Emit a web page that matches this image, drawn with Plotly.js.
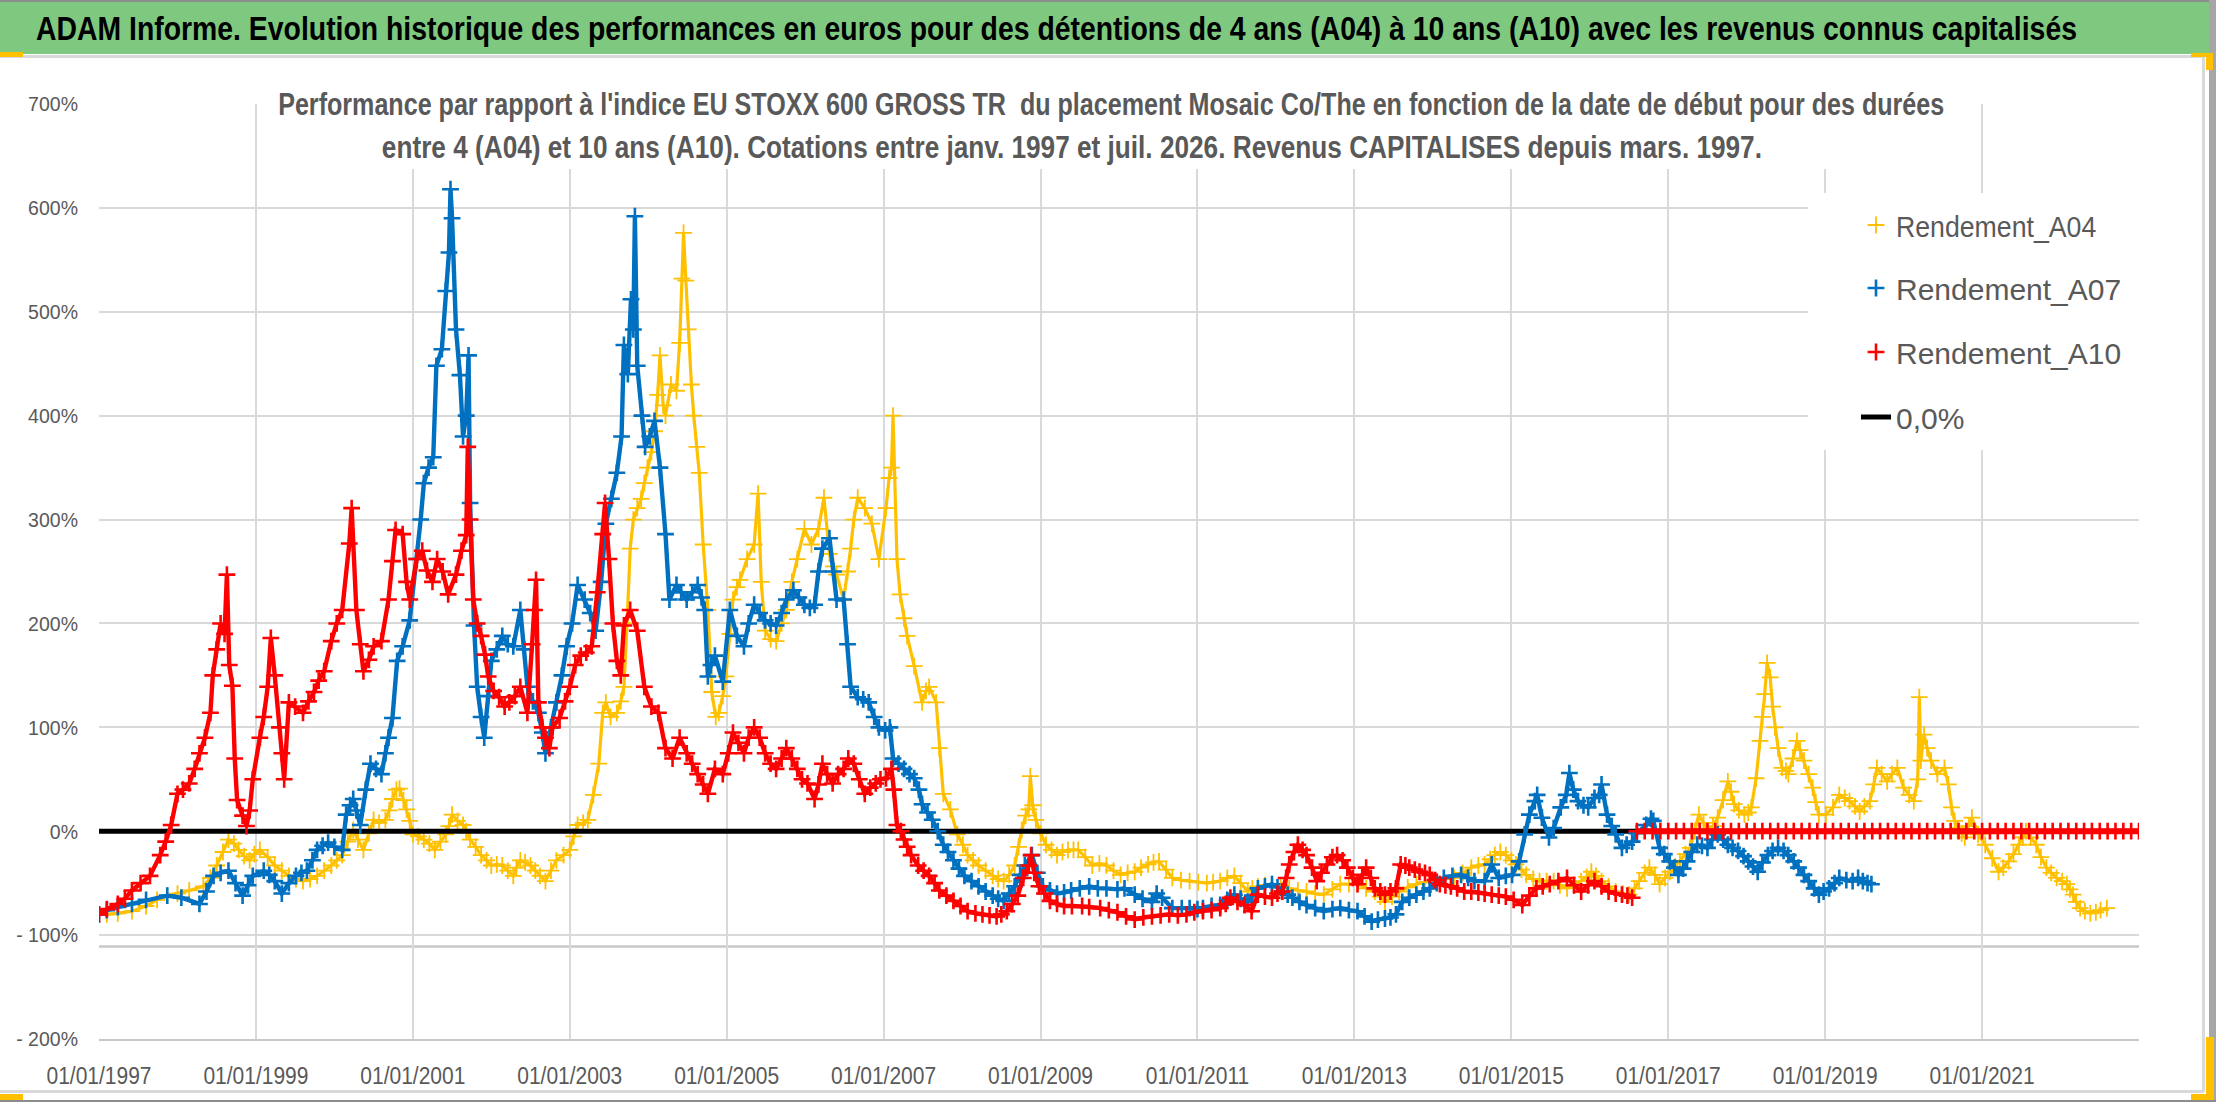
<!DOCTYPE html>
<html><head><meta charset="utf-8">
<script src="https://cdn.plot.ly/plotly-3.0.1.min.js"></script>
<style>html,body{margin:0;padding:0;background:#fff}#chart{width:2216px;height:1102px}</style>
</head><body><div id="chart"></div>
<script>
// ---------- DATA ----------
const titleText = "ADAM Informe. Evolution historique des performances en euros pour des détentions de 4 ans (A04) à 10 ans (A10) avec les revenus connus capitalisés";
const subtitleLine1 = "Performance par rapport à l'indice EU STOXX 600 GROSS TR  du placement Mosaic Co/The en fonction de la date de début pour des durées";
const subtitleLine2 = "entre 4 (A04) et 10 ans (A10). Cotations entre janv. 1997 et juil. 2026. Revenus CAPITALISES depuis mars. 1997.";
const seriesNames = ["Rendement_A04", "Rendement_A07", "Rendement_A10", "0,0%"];

const xTickVals = [1997, 1999, 2001, 2003, 2005, 2007, 2009, 2011, 2013, 2015, 2017, 2019, 2021];
const xTickLabels = ["01/01/1997","01/01/1999","01/01/2001","01/01/2003","01/01/2005","01/01/2007","01/01/2009","01/01/2011","01/01/2013","01/01/2015","01/01/2017","01/01/2019","01/01/2021"];
const yTickVals = [-200, -100, 0, 100, 200, 300, 400, 500, 600, 700];
const yTickLabels = ["- 200%","- 100%","0%","100%","200%","300%","400%","500%","600%","700%"];

// Rendement_A04 (yellow) : start date (decimal year) / performance %
const a04Dates = [
1997.00,1997.10,1997.24,1997.42,1997.60,1997.74,1997.87,1998.00,1998.15,1998.33,
1998.42,1998.50,1998.58,1998.65,1998.72,1998.78,1998.85,1998.92,1998.98,1999.05,
1999.15,1999.24,1999.33,1999.42,1999.51,1999.60,1999.69,1999.78,1999.87,1999.96,
2000.03,2000.10,2000.17,2000.24,2000.30,2000.37,2000.44,2000.50,2000.57,2000.65,
2000.70,2000.74,2000.79,2000.83,2000.88,2000.92,2000.96,2001.00,2001.07,2001.14,
2001.21,2001.28,2001.35,2001.42,2001.46,2001.50,2001.57,2001.64,2001.68,2001.73,
2001.80,2001.87,2001.94,2002.00,2002.07,2002.14,2002.21,2002.28,2002.32,2002.37,
2002.43,2002.50,2002.56,2002.62,2002.69,2002.76,2002.83,2002.92,2003.00,2003.05,
2003.10,2003.17,2003.23,2003.30,2003.37,2003.42,2003.46,2003.52,2003.60,2003.65,
2003.69,2003.73,2003.77,2003.81,2003.86,2003.91,2003.95,2003.99,2004.04,2004.08,
2004.12,2004.15,2004.19,2004.22,2004.29,2004.36,2004.40,2004.43,2004.45,2004.48,
2004.51,2004.55,2004.58,2004.62,2004.65,2004.70,2004.76,2004.81,2004.86,2004.90,
2004.95,2004.99,2005.04,2005.08,2005.13,2005.17,2005.26,2005.35,2005.40,2005.44,
2005.49,2005.56,2005.63,2005.70,2005.76,2005.83,2005.90,2005.99,2006.08,2006.17,
2006.24,2006.31,2006.36,2006.40,2006.49,2006.54,2006.58,2006.62,2006.67,2006.76,
2006.85,2006.94,2007.03,2007.07,2007.10,2007.12,2007.17,2007.21,2007.26,2007.30,
2007.39,2007.49,2007.54,2007.58,2007.67,2007.71,2007.76,2007.85,2007.94,2008.01,
2008.07,2008.14,2008.21,2008.30,2008.39,2008.46,2008.53,2008.60,2008.67,2008.72,
2008.76,2008.81,2008.85,2008.87,2008.90,2008.94,2009.00,2009.07,2009.14,2009.21,
2009.28,2009.35,2009.42,2009.48,2009.57,2009.66,2009.75,2009.84,2009.93,2010.02,
2010.11,2010.20,2010.28,2010.37,2010.44,2010.51,2010.60,2010.68,2010.79,2010.90,
2011.01,2011.12,2011.20,2011.29,2011.38,2011.47,2011.55,2011.64,2011.70,2011.77,
2011.86,2011.95,2012.06,2012.17,2012.28,2012.39,2012.50,2012.61,2012.72,2012.82,
2012.93,2013.04,2013.15,2013.26,2013.33,2013.39,2013.48,2013.57,2013.68,2013.79,
2013.90,2014.01,2014.14,2014.27,2014.38,2014.49,2014.58,2014.66,2014.73,2014.79,
2014.86,2014.93,2015.00,2015.06,2015.13,2015.19,2015.28,2015.36,2015.45,2015.54,
2015.62,2015.71,2015.80,2015.89,2015.96,2016.02,2016.08,2016.15,2016.24,2016.33,
2016.42,2016.50,2016.57,2016.63,2016.70,2016.76,2016.83,2016.89,2016.96,2017.02,
2017.09,2017.15,2017.22,2017.28,2017.34,2017.39,2017.45,2017.50,2017.57,2017.63,
2017.70,2017.76,2017.80,2017.84,2017.90,2017.97,2018.02,2018.06,2018.12,2018.17,
2018.20,2018.23,2018.26,2018.30,2018.33,2018.36,2018.40,2018.45,2018.50,2018.53,
2018.59,2018.64,2018.68,2018.73,2018.79,2018.84,2018.88,2018.92,2019.01,2019.10,
2019.18,2019.25,2019.31,2019.38,2019.44,2019.50,2019.57,2019.62,2019.66,2019.72,
2019.79,2019.85,2019.92,2020.00,2020.07,2020.13,2020.18,2020.20,2020.22,2020.26,
2020.30,2020.35,2020.43,2020.52,2020.57,2020.61,2020.65,2020.69,2020.74,2020.78,
2020.83,2020.87,2020.95,2021.04,2021.13,2021.21,2021.27,2021.34,2021.40,2021.47,
2021.52,2021.56,2021.62,2021.69,2021.75,2021.82,2021.88,2021.95,2022.02,2022.08,
2022.12,2022.16,2022.20,2022.25,2022.31,2022.38,2022.45,2022.51,2022.59];
const a04Values = [
-80,-80,-79,-77,-72,-66,-62,-60,-57,-53,
-45,-33,-20,-8,-12,-18,-24,-28,-22,-18,
-25,-33,-38,-43,-46,-48,-46,-43,-38,-33,
-28,-23,-10,1,-8,-18,-2,11,8,11,
20,31,40,41,30,21,10,-3,-5,-8,
-12,-18,-10,-3,5,16,10,6,0,-8,
-15,-23,-28,-33,-32,-33,-38,-43,-35,-28,
-30,-33,-38,-43,-48,-38,-28,-23,-18,-5,
6,8,11,35,65,114,124,110,114,125,
139,200,272,300,311,320,335,350,365,385,
420,458,410,400,430,424,470,532,576,530,
483,430,400,370,345,276,213,134,110,114,
130,149,190,223,235,242,262,276,325,240,
193,185,183,200,213,240,262,291,276,291,
321,267,255,247,223,250,272,300,321,311,
296,262,311,340,350,400,262,228,205,188,
159,124,135,139,124,80,36,21,-3,-13,
-23,-28,-33,-38,-43,-46,-48,-42,-33,-15,
1,15,21,53,25,11,-2,-13,-18,-23,
-20,-18,-18,-18,-25,-33,-31,-33,-38,-42,
-40,-39,-35,-32,-30,-29,-37,-45,-47,-48,
-49,-50,-49,-48,-45,-43,-50,-58,-55,-53,
-52,-51,-53,-55,-57,-58,-60,-61,-56,-51,
-51,-51,-55,-58,-63,-68,-63,-58,-54,-51,
-49,-48,-46,-45,-40,-35,-33,-32,-27,-23,
-20,-23,-28,-32,-37,-42,-46,-48,-48,-48,
-52,-55,-52,-48,-44,-39,-43,-48,-53,-58,
-60,-61,-55,-48,-40,-35,-42,-51,-45,-39,
-34,-29,-22,-16,0,16,8,0,5,13,
30,48,38,26,20,16,18,23,51,87,
110,132,162,148,120,100,80,61,58,55,
70,87,78,68,55,42,28,16,16,23,
35,32,29,24,19,24,29,45,61,55,
48,55,61,42,35,29,50,129,68,93,
80,68,55,61,45,23,10,3,-2,-6,
5,13,-3,-13,-26,-39,-35,-29,-22,-13,
-6,0,-6,-13,-25,-35,-40,-45,-48,-51,
-56,-61,-68,-74,-77,-79,-78,-76,-74];

// Rendement_A07 (blue)
const a07Dates = [
1997.00,1997.10,1997.24,1997.42,1997.60,1997.87,1998.05,1998.28,1998.37,1998.46,
1998.55,1998.65,1998.74,1998.83,1998.90,1998.96,1999.10,1999.17,1999.24,1999.33,
1999.42,1999.51,1999.58,1999.65,1999.72,1999.78,1999.85,1999.92,2000.00,2000.10,
2000.15,2000.20,2000.24,2000.28,2000.33,2000.40,2000.46,2000.53,2000.60,2000.65,
2000.69,2000.74,2000.80,2000.87,2000.96,2001.05,2001.10,2001.14,2001.20,2001.26,
2001.30,2001.37,2001.42,2001.46,2001.48,2001.50,2001.55,2001.60,2001.64,2001.68,
2001.71,2001.73,2001.78,2001.82,2001.87,2001.91,2001.96,2002.00,2002.07,2002.14,
2002.21,2002.28,2002.37,2002.42,2002.46,2002.53,2002.60,2002.65,2002.69,2002.76,
2002.83,2002.90,2002.96,2003.03,2003.10,2003.19,2003.26,2003.33,2003.40,2003.46,
2003.53,2003.60,2003.66,2003.69,2003.74,2003.78,2003.81,2003.83,2003.86,2003.92,
2003.96,2004.02,2004.08,2004.15,2004.22,2004.27,2004.36,2004.42,2004.49,2004.56,
2004.63,2004.68,2004.72,2004.76,2004.80,2004.85,2004.95,2005.04,2005.13,2005.22,
2005.28,2005.35,2005.42,2005.49,2005.56,2005.63,2005.70,2005.76,2005.85,2005.92,
2005.99,2006.06,2006.12,2006.17,2006.22,2006.31,2006.36,2006.40,2006.49,2006.54,
2006.58,2006.67,2006.74,2006.81,2006.88,2006.94,2007.02,2007.08,2007.12,2007.19,
2007.26,2007.33,2007.39,2007.45,2007.49,2007.56,2007.62,2007.69,2007.76,2007.82,
2007.89,2007.96,2008.03,2008.12,2008.21,2008.30,2008.39,2008.46,2008.53,2008.60,
2008.67,2008.74,2008.80,2008.89,2008.96,2009.03,2009.12,2009.21,2009.30,2009.39,
2009.50,2009.62,2009.73,2009.84,2009.98,2010.07,2010.20,2010.30,2010.42,2010.48,
2010.55,2010.68,2010.80,2010.90,2011.00,2011.07,2011.18,2011.29,2011.38,2011.47,
2011.55,2011.64,2011.70,2011.77,2011.86,2011.95,2012.02,2012.08,2012.15,2012.21,
2012.30,2012.39,2012.50,2012.61,2012.72,2012.82,2012.93,2013.04,2013.13,2013.22,
2013.30,2013.39,2013.46,2013.53,2013.61,2013.70,2013.79,2013.88,2013.96,2014.05,
2014.14,2014.25,2014.36,2014.45,2014.53,2014.66,2014.75,2014.84,2014.93,2015.01,
2015.10,2015.17,2015.23,2015.30,2015.33,2015.39,2015.48,2015.54,2015.63,2015.70,
2015.74,2015.79,2015.85,2015.92,2015.98,2016.06,2016.12,2016.15,2016.22,2016.28,
2016.33,2016.41,2016.47,2016.54,2016.60,2016.72,2016.78,2016.81,2016.89,2016.95,
2017.02,2017.08,2017.13,2017.19,2017.24,2017.30,2017.37,2017.43,2017.50,2017.56,
2017.63,2017.70,2017.76,2017.82,2017.89,2017.96,2018.02,2018.08,2018.14,2018.20,
2018.27,2018.33,2018.40,2018.47,2018.53,2018.60,2018.66,2018.73,2018.79,2018.86,
2018.92,2018.98,2019.05,2019.12,2019.18,2019.27,2019.35,2019.42,2019.48,2019.54,
2019.59];
const a07Values = [
-80,-76,-73,-70,-66,-62,-64,-70,-58,-43,
-40,-38,-50,-62,-52,-43,-38,-42,-48,-60,
-50,-43,-40,-38,-28,-18,-14,-11,-15,-18,
16,25,31,20,6,40,65,60,55,75,
90,109,164,178,203,262,300,335,350,360,
448,464,520,557,618,590,483,439,380,400,
458,316,198,139,110,90,130,164,175,188,
180,178,213,175,139,125,114,95,75,100,
124,150,178,200,237,223,210,193,240,296,
320,345,380,468,440,512,483,592,448,400,
370,380,395,350,286,223,237,230,223,230,
237,225,213,149,160,169,144,213,188,178,
200,218,210,203,200,198,210,223,232,225,
218,215,218,250,272,282,250,223,223,180,
139,129,127,124,110,100,97,100,70,65,
60,55,51,40,26,18,11,0,-13,-20,
-28,-36,-43,-48,-53,-58,-62,-65,-67,-60,
-53,-42,-33,-23,-40,-53,-57,-60,-59,-57,
-55,-53,-55,-55,-56,-55,-61,-65,-68,-60,
-64,-74,-74,-74,-75,-74,-72,-71,-66,-61,
-65,-68,-62,-55,-53,-51,-54,-58,-61,-64,
-68,-71,-74,-77,-75,-74,-76,-77,-82,-87,
-85,-84,-83,-80,-68,-64,-61,-58,-55,-50,
-45,-43,-42,-45,-48,-48,-32,-45,-43,-42,
-29,-3,16,29,35,13,-6,3,23,35,
56,40,29,25,23,32,35,45,16,5,
-3,-16,-13,-10,-2,6,12,10,-16,-22,
-29,-35,-42,-36,-29,-20,-13,-14,-16,-8,
-3,-8,-13,-16,-19,-24,-29,-34,-39,-30,
-23,-19,-16,-19,-23,-29,-35,-42,-48,-55,
-61,-58,-55,-50,-45,-47,-48,-45,-48,-50,
-51];

// Rendement_A10 (red), known part
const a10Dates = [
1997.00,1997.10,1997.24,1997.33,1997.42,1997.53,1997.65,1997.78,1997.85,1997.92,
1998.00,1998.07,1998.15,1998.22,1998.28,1998.35,1998.42,1998.45,1998.50,1998.55,
1998.60,1998.63,1998.66,1998.70,1998.73,1998.76,1998.83,1998.88,1998.92,1998.96,
1999.05,1999.10,1999.15,1999.19,1999.24,1999.30,1999.33,1999.36,1999.42,1999.50,
1999.60,1999.67,1999.74,1999.80,1999.87,1999.96,2000.03,2000.10,2000.19,2000.22,
2000.28,2000.33,2000.37,2000.44,2000.50,2000.60,2000.69,2000.74,2000.78,2000.87,
2000.92,2000.96,2001.05,2001.12,2001.18,2001.25,2001.31,2001.38,2001.45,2001.55,
2001.62,2001.68,2001.70,2001.73,2001.77,2001.82,2001.87,2001.92,2001.96,2002.03,
2002.10,2002.17,2002.23,2002.30,2002.37,2002.46,2002.52,2002.55,2002.57,2002.60,
2002.65,2002.69,2002.74,2002.78,2002.87,2002.94,2003.00,2003.07,2003.14,2003.21,
2003.28,2003.35,2003.42,2003.45,2003.50,2003.55,2003.60,2003.65,2003.69,2003.77,
2003.86,2003.95,2004.04,2004.13,2004.22,2004.31,2004.40,2004.49,2004.56,2004.63,
2004.70,2004.76,2004.85,2004.95,2005.02,2005.08,2005.15,2005.22,2005.28,2005.35,
2005.42,2005.49,2005.56,2005.63,2005.70,2005.76,2005.83,2005.90,2005.96,2006.03,
2006.12,2006.17,2006.22,2006.28,2006.35,2006.42,2006.49,2006.55,2006.62,2006.69,
2006.76,2006.83,2006.90,2006.96,2007.03,2007.10,2007.13,2007.17,2007.22,2007.26,
2007.30,2007.35,2007.44,2007.51,2007.58,2007.65,2007.71,2007.80,2007.89,2007.98,
2008.07,2008.17,2008.26,2008.35,2008.44,2008.50,2008.57,2008.64,2008.71,2008.78,
2008.85,2008.88,2008.92,2008.98,2009.05,2009.12,2009.21,2009.30,2009.40,2009.53,
2009.62,2009.76,2009.87,2009.98,2010.09,2010.20,2010.31,2010.42,2010.53,2010.64,
2010.75,2010.86,2010.96,2011.07,2011.18,2011.29,2011.36,2011.42,2011.51,2011.60,
2011.69,2011.77,2011.86,2011.95,2012.02,2012.08,2012.13,2012.17,2012.23,2012.28,
2012.34,2012.39,2012.46,2012.52,2012.58,2012.65,2012.72,2012.78,2012.85,2012.91,
2012.98,2013.04,2013.10,2013.15,2013.21,2013.26,2013.33,2013.39,2013.46,2013.53,
2013.59,2013.65,2013.70,2013.77,2013.83,2013.90,2013.96,2014.03,2014.09,2014.16,
2014.23,2014.31,2014.40,2014.49,2014.58,2014.66,2014.75,2014.84,2014.93,2015.03,
2015.14,2015.23,2015.32,2015.40,2015.49,2015.60,2015.71,2015.80,2015.89,2015.98,
2016.06,2016.15,2016.24,2016.33,2016.41,2016.48,2016.54];
const a10Values = [
-80,-75,-70,-65,-57,-50,-43,-23,-10,6,
36,40,46,60,75,90,114,150,175,200,
190,247,160,140,70,30,15,5,20,50,
90,110,139,186,150,100,75,50,124,120,
114,125,134,145,154,183,200,213,277,311,
213,180,154,165,178,183,223,260,290,286,
240,223,262,270,251,240,262,250,228,247,
270,285,370,300,223,200,188,170,149,135,
129,120,124,130,139,114,180,213,242,124,
100,90,80,100,109,125,139,160,169,172,
178,230,286,316,262,200,164,150,198,213,
193,139,120,114,80,70,90,75,65,55,
45,36,60,55,75,95,85,75,90,100,
90,75,65,60,70,80,70,60,50,46,
31,45,65,55,46,55,60,70,65,50,
36,42,46,50,51,60,40,6,0,-8,
-15,-23,-33,-38,-43,-50,-57,-62,-67,-72,
-77,-79,-80,-81,-82,-80,-77,-70,-62,-45,
-33,-23,-40,-53,-60,-67,-70,-72,-72,-72,
-73,-74,-76,-78,-82,-85,-83,-82,-81,-80,
-81,-80,-78,-77,-76,-74,-70,-64,-68,-71,
-77,-61,-63,-64,-60,-58,-45,-32,-20,-13,
-18,-23,-35,-48,-40,-32,-25,-23,-28,-35,
-45,-51,-42,-35,-45,-55,-58,-61,-58,-55,
-32,-33,-35,-37,-39,-40,-42,-47,-51,-52,
-53,-55,-58,-58,-59,-60,-61,-62,-63,-66,
-71,-62,-55,-53,-51,-48,-45,-52,-58,-52,
-48,-53,-58,-60,-61,-62,-64];

// Rendement_A10 (red), periods not yet complete: drawn at 0 in the reference
const a10FutureDates = [
2016.6,2016.7,2016.8,2016.9,2017.0,2017.1,2017.2,2017.3,2017.4,2017.5,
2017.6,2017.7,2017.8,2017.9,2018.0,2018.1,2018.2,2018.3,2018.4,2018.5,
2018.6,2018.7,2018.8,2018.9,2019.0,2019.1,2019.2,2019.3,2019.4,2019.5,
2019.6,2019.7,2019.8,2019.9,2020.0,2020.1,2020.2,2020.3,2020.4,2020.5,
2020.6,2020.7,2020.8,2020.9,2021.0,2021.1,2021.2,2021.3,2021.4,2021.5,
2021.6,2021.7,2021.8,2021.9,2022.0,2022.1,2022.2,2022.3,2022.4,2022.5,
2022.6,2022.7,2022.8,2022.9,2023.0];
const a10FutureValues = [
0,0,0,0,0,0,0,0,0,0,
0,0,0,0,0,0,0,0,0,0,
0,0,0,0,0,0,0,0,0,0,
0,0,0,0,0,0,0,0,0,0,
0,0,0,0,0,0,0,0,0,0,
0,0,0,0,0,0,0,0,0,0,
0,0,0,0,0];

// 0,0% reference line
const zeroDates = [1997, 2023];
const zeroValues = [0, 0];

// ---------- LAYOUT HELPERS (pixel geometry of the picture) ----------
const W = 2216, H = 1102;
const PL = 99, PR = 2139, PT = 104, PB = 1039;
const px = x => (x - PL) / (PR - PL);
const py = y => (PB - y) / (PB - PT);
const FONT = "'Liberation Sans', Arial, sans-serif";
const GREY = '#595959';
const C04 = '#FFC000', C07 = '#0070C0', C10 = '#FF0000';

function rect(x0, y0, x1, y1, color) {
  return {type: 'rect', xref: 'paper', yref: 'paper', x0: px(x0), x1: px(x1), y0: py(y1), y1: py(y0),
          fillcolor: color, line: {width: 0}, layer: 'above'};
}
function band(name, x, y, color, w) {
  return {type: 'scatter', mode: 'lines', name: name, x: x, y: y, showlegend: false,
          line: {color: color, width: w}, hoverinfo: 'skip'};
}
function crosses(name, x, y, color, w, leg, show) {
  return {type: 'scatter', mode: 'markers', name: name, x: x, y: y, legend: leg, showlegend: show,
          marker: {symbol: 'cross-thin', size: 12, color: color, line: {color: color, width: w}}, hoverinfo: 'skip'};
}

const traces = [
  band(seriesNames[0], a04Dates, a04Values, C04, 3.2),
  crosses(seriesNames[0], a04Dates, a04Values, C04, 1.8, 'legend', true),
  {type: 'scatter', mode: 'lines', name: seriesNames[3], x: zeroDates, y: zeroValues, legend: 'legend4',
   line: {color: '#000000', width: 5}, hoverinfo: 'skip'},
  band(seriesNames[1], a07Dates, a07Values, C07, 4.4),
  crosses(seriesNames[1], a07Dates, a07Values, C07, 2.6, 'legend2', true),
  band(seriesNames[2], a10Dates, a10Values, C10, 4.4),
  band(seriesNames[2], a10FutureDates, a10FutureValues, C10, 6),
  crosses(seriesNames[2], a10Dates, a10Values, C10, 2.6, 'legend3', true),
  crosses(seriesNames[2], a10FutureDates, a10FutureValues, C10, 2.6, 'legend3', false)
];

const legFont = {family: FONT, size: 30, color: GREY};
const legBase = (y) => ({x: px(1856), y: py(y), xanchor: 'left', yanchor: 'middle', bgcolor: 'rgba(0,0,0,0)',
                         borderwidth: 0, font: legFont, itemwidth: 30, itemclick: false, itemdoubleclick: false});

const layout = {
  width: W, height: H,
  margin: {l: PL, r: W - PR, t: PT, b: H - PB, pad: 0},
  paper_bgcolor: '#ffffff', plot_bgcolor: '#ffffff',
  showlegend: true,
  title: {text: '<b>' + titleText + '</b>', font: {family: FONT, size: 34, color: '#000000'},
          x: 36 / W, xanchor: 'left', xref: 'container', y: 1 - 28 / H, yanchor: 'middle', yref: 'container'},
  xaxis: {range: [1997, 2023], tickmode: 'array', tickvals: xTickVals, ticktext: xTickLabels,
          showgrid: true, gridcolor: '#d9d9d9', gridwidth: 2, zeroline: false,
          showline: true, linecolor: '#c8c8c8', linewidth: 2, ticks: '',
          tickfont: {family: FONT, size: 24, color: GREY}, ticklabelstandoff: 14, fixedrange: true},
  yaxis: {range: [-200, 700], tickmode: 'array', tickvals: yTickVals, ticktext: yTickLabels,
          showgrid: true, gridcolor: '#d9d9d9', gridwidth: 2, zeroline: false, showline: false, ticks: '',
          tickfont: {family: FONT, size: 21, color: GREY}, ticklabelstandoff: 20, fixedrange: true},
  legend: legBase(225),
  legend2: legBase(288),
  legend3: legBase(352),
  legend4: legBase(417),
  annotations: [
    {text: '<b>' + subtitleLine1 + '</b>', xref: 'paper', yref: 'paper', x: px(1111), y: py(104),
     xanchor: 'center', yanchor: 'middle', showarrow: false, font: {family: FONT, size: 31, color: GREY}},
    {text: '<b>' + subtitleLine2 + '</b>', xref: 'paper', yref: 'paper', x: px(1072), y: py(147),
     xanchor: 'center', yanchor: 'middle', showarrow: false, font: {family: FONT, size: 31, color: GREY}}
  ],
  shapes: [
    // chart frame
    rect(0, 0, W, 2, '#8c8c8c'),
    rect(2209, 0, W, H, '#a6a6a6'),
    rect(0, H - 2, W, H, '#8c8c8c'),
    rect(0, 55, 2204, 58, '#d9d9d9'),
    rect(2202, 57, 2205, 1092, '#d9d9d9'),
    rect(0, 1090, 2204, 1093, '#d9d9d9'),
    // title bar
    rect(0, 2, 2209, 54, '#7ec97f'),
    // selection handles
    rect(0, 52, 23, 57, C04),
    rect(2191, 53, 2213, 57, C04),
    rect(2206, 53, 2213, 70, C04),
    rect(0, 1094, 23, 1100, C04),
    rect(2206, 1037, 2214, 1100, C04),
    rect(2191, 1094, 2214, 1100, C04),
    // white boxes behind subtitle and legend
    rect(272, 62, 1936, 169, '#ffffff'),
    rect(1808, 193, 2139, 450, '#ffffff'),
    // secondary horizontal line under -100%
    {type: 'line', xref: 'paper', yref: 'y', x0: 0, x1: 1, y0: -111, y1: -111,
     line: {color: '#c8c8c8', width: 2.5}, layer: 'below'}
  ]
};

// horizontal squeeze of text to imitate the narrow font of the reference
function squeezeEl(el, s) {
  const bb = el.getBBox();
  const anchor = el.getAttribute('text-anchor') || getComputedStyle(el).textAnchor || 'start';
  let cx = bb.x;
  if (anchor === 'middle') cx = bb.x + bb.width / 2;
  else if (anchor === 'end') cx = bb.x + bb.width;
  const t = el.getAttribute('transform') || '';
  el.setAttribute('transform', t + ' translate(' + cx + ',0) scale(' + s + ',1) translate(' + (-cx) + ',0)');
}
function squeeze(selector, s) {
  document.querySelectorAll(selector).forEach(el => squeezeEl(el, s));
}

Plotly.newPlot('chart', traces, layout, {staticPlot: true, displayModeBar: false}).then(() => {
  squeeze('.gtitle', 0.835);
  const ann = document.querySelectorAll('.annotation-text');
  if (ann[0]) squeezeEl(ann[0], 0.81);
  if (ann[1]) squeezeEl(ann[1], 0.845);
  squeeze('.xtick text', 0.875);
  squeeze('.ytick text', 0.93);
  squeeze('.legendtext', 0.89);
});
</script></body></html>
